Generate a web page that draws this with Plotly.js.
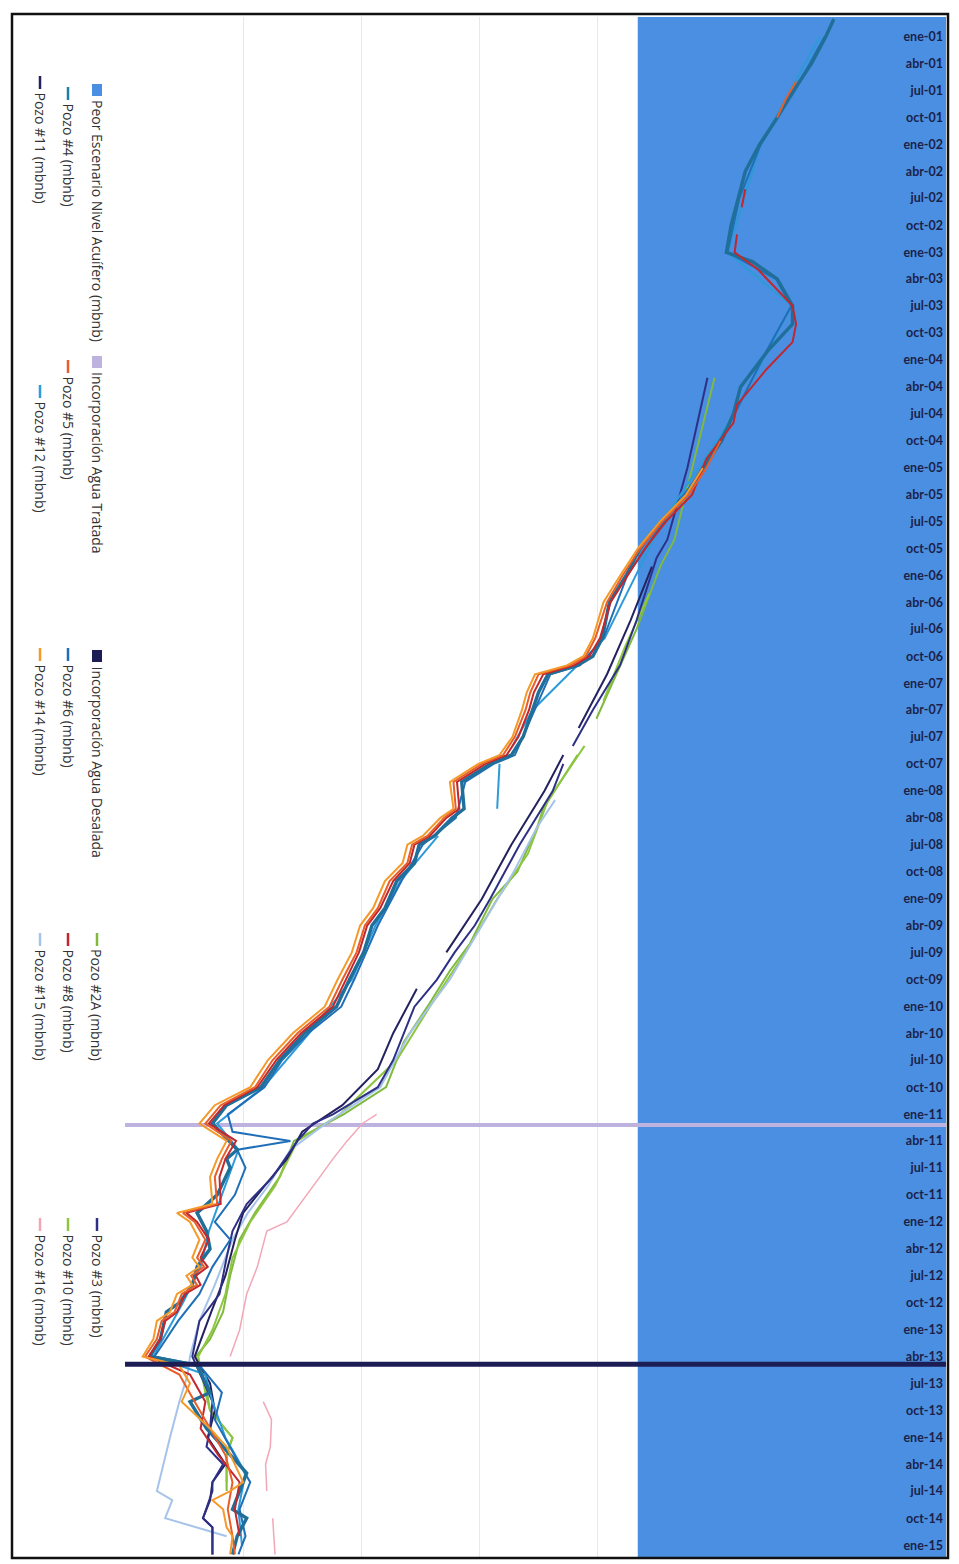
<!DOCTYPE html>
<html>
<head>
<meta charset="utf-8">
<script src="https://cdn.plot.ly/plotly-3.0.1.min.js"></script>
<style>
  html, body { margin: 0; padding: 0; background: #ffffff; }
  #chart { width: 959px; height: 1564px; }
</style>
</head>
<body>
<div id="chart"></div>
<script>
// ---------------- DATA ----------------
const etiquetasFecha = ['ene-01','abr-01','jul-01','oct-01','ene-02','abr-02','jul-02','oct-02','ene-03','abr-03','jul-03','oct-03','ene-04','abr-04','jul-04','oct-04','ene-05','abr-05','jul-05','oct-05','ene-06','abr-06','jul-06','oct-06','ene-07','abr-07','jul-07','oct-07','ene-08','abr-08','jul-08','oct-08','ene-09','abr-09','jul-09','oct-09','ene-10','abr-10','jul-10','oct-10','ene-11','abr-11','jul-11','oct-11','ene-12','abr-12','jul-12','oct-12','ene-13','abr-13','jul-13','oct-13','ene-14','abr-14','jul-14','oct-14','ene-15'];

// Peor escenario nivel acuifero (mbnb)
const peorEscenarioFechas = ['2000-10-01', '2015-03-01'];
const peorEscenarioNivel = [26.6, 26.6];

// Hitos
const fechaAguaTratada = '2011-02-06';
const fechaAguaDesalada = '2013-04-27';

const pozo4Fechas = ['2000-11','2001-01','2001-04','2001-07','2001-10','2002-01','2002-04','2002-07','2002-10','2003-01','2003-02','2003-04','2003-07','2003-09','2003-12','2004-04','2004-07','2004-10','2005-01','2005-04','2005-07','2005-10','2006-01','2006-04','2006-08','2006-10','2006-11','2006-12','2007-02','2007-04','2007-07','2007-09','2007-10','2007-12','2008-03','2008-04','2008-06','2008-07','2008-09','2008-11','2009-02','2009-04','2009-07','2009-10','2010-01','2010-04','2010-07','2010-10','2010-12','2011-02','2011-05','2011-06','2011-07','2011-10','2011-12','2012-02','2012-04','2012-06','2012-08','2012-10','2012-11','2013-02','2013-04','2013-05','2013-08','2013-09','2013-12','2014-05','2014-09','2014-10','2014-12','2015-02'];
const pozo4Valores = [10.0,10.7,11.9,13.4,14.8,16.3,17.5,18.1,18.7,19.1,16.9,14.8,13.5,13.5,15.6,17.9,18.5,19.5,21.1,22.4,24.6,26.4,27.6,29.0,29.6,30.4,31.7,34.2,35.0,35.5,36.3,37.3,39.1,41.5,41.3,42.3,43.8,45.1,45.5,47.0,48.0,49.1,49.8,51.0,52.1,54.8,56.9,58.5,61.4,62.6,60.5,61.4,61.1,62.2,63.9,63.1,62.8,63.9,64.3,65.4,66.5,67.0,67.9,63.9,62.8,64.5,63.1,59.7,60.9,59.7,60.5,60.9];

const pozo6Fechas = ['2001-01','2001-07','2002-01','2002-07','2003-01','2003-04','2003-07','2003-12','2004-07','2005-01','2005-07','2006-01','2006-08','2006-11','2006-12','2007-04','2007-09','2007-10','2007-12','2008-04','2008-07','2008-11','2009-04','2009-10','2010-01','2010-04','2010-07','2010-10','2011-01','2011-03','2011-04','2011-05','2011-07','2011-10','2012-01','2012-03','2012-06','2012-09','2012-12','2013-04','2013-05','2013-08','2013-11','2014-04','2014-06','2014-09','2014-12','2015-02'];
const pozo6Valores = [10.8,13.3,16.2,18.0,19.0,14.9,13.6,15.7,18.4,21.0,24.4,27.5,29.5,31.5,34.0,35.3,37.0,38.8,41.2,42.0,44.8,46.6,48.6,50.6,51.7,54.5,56.7,58.2,61.3,60.9,56.0,60.5,59.8,60.7,62.4,61.1,62.6,63.7,65.5,67.5,63.7,61.8,62.4,60.3,59.4,60.3,59.8,60.4];

const pozo12Fechas = ['2001-01','2002-01','2003-01','2003-07','2004-07','2005-07','2006-08','2007-04','2007-08','2007-09','2007-10','2008-01','2008-03','2008-04','2008-06','2008-11','2009-04','2009-10','2010-04','2010-10','2011-02','2011-05','2011-10','2012-02','2012-06','2012-10','2013-04','2013-06','2013-09','2014-01','2014-05','2014-09','2015-01'];
const pozo12Valores = [11.2,16.2,19.0,13.6,18.4,24.5,29.4,35.5,37.2,null,38.3,38.4,38.5,null,43.5,46.7,48.8,50.8,54.4,58.3,62.2,60.4,61.8,62.9,63.6,65.1,67.6,63.2,62.6,61.5,59.8,60.4,60.1];

const pozo14Fechas = ['2005-01','2005-04','2005-07','2005-10','2006-01','2006-04','2006-08','2006-10','2006-11','2006-12','2007-02','2007-04','2007-07','2007-09','2007-10','2007-12','2008-03','2008-04','2008-06','2008-07','2008-09','2008-11','2009-02','2009-04','2009-07','2009-10','2010-01','2010-04','2010-07','2010-10','2010-12','2011-02','2011-04','2011-06','2011-08','2011-11','2011-12','2012-01','2012-03','2012-05','2012-06','2012-07','2012-08','2012-09','2012-11','2012-12','2013-02','2013-04','2013-05','2013-07','2013-09','2013-12','2014-02','2014-06','2014-07','2014-08','2014-09','2014-11','2014-12','2015-02'];
const pozo14Valores = [21.1,22.5,24.7,26.6,28.1,29.5,30.4,31.2,32.6,35.3,36.0,36.4,37.2,38.3,40.1,42.5,42.2,43.3,44.8,46.1,46.5,48.0,49.0,50.1,50.8,52.0,53.1,55.8,57.9,59.4,62.4,63.7,61.4,62.2,62.8,62.6,65.6,64.5,63.7,64.3,63.7,64.8,64.3,65.6,66.2,67.3,67.6,68.5,65.4,64.5,65.2,62.8,61.4,60.0,61.1,62.6,61.7,61.4,60.9,61.1];

const pozo5Fechas = ['2001-06','2001-08','2001-10','2001-11','2004-10','2005-01','2005-04','2005-07','2005-10','2006-01','2006-04','2006-08','2006-10','2006-11','2006-12','2007-02','2007-04','2007-07','2007-09','2007-10','2007-12','2008-03','2008-04','2008-06','2008-07','2008-09','2008-11','2009-02','2009-04','2009-07','2009-10','2010-01','2010-04','2010-07','2010-10','2010-12','2011-02','2011-04','2011-06','2011-08','2011-11','2011-12','2012-01','2012-03','2012-05','2012-06','2012-07','2012-08','2012-09','2012-11','2012-12','2013-02','2013-04','2013-06','2013-09','2013-12','2014-03','2014-06','2014-09','2014-12','2015-02'];
const pozo5Valores = [13.2,14.1,14.8,null,19.6,20.8,22.3,24.5,26.4,27.9,29.2,30.2,31.0,32.3,35.0,35.7,36.1,37.0,38.0,39.8,42.2,42.0,43.0,44.4,45.7,46.1,47.6,48.6,49.7,50.4,51.6,52.7,55.4,57.5,59.0,61.9,63.2,61.0,61.8,62.4,62.2,65.1,64.1,63.2,63.9,63.3,64.4,63.9,65.2,65.8,66.9,67.3,68.3,65.4,64.1,62.8,61.5,60.9,61.3,60.9,60.7];

const pozo8Fechas = ['2002-06','2002-08','2002-09','2002-11','2003-01','2003-03','2003-07','2003-09','2003-11','2004-02','2004-06','2004-08','2004-12','2005-04','2005-07','2005-10','2006-01','2006-04','2006-08','2006-10','2006-11','2006-12','2007-02','2007-04','2007-07','2007-09','2007-10','2007-12','2008-03','2008-04','2008-06','2008-07','2008-09','2008-11','2009-02','2009-04','2009-07','2009-10','2010-01','2010-04','2010-07','2010-10','2010-12','2011-02','2011-04','2011-06','2011-08','2011-11','2011-12','2012-01','2012-03','2012-05','2012-06','2012-07','2012-08','2012-09','2012-11','2012-12','2013-02','2013-04','2013-06','2013-09','2013-12','2014-03','2014-06','2014-09','2014-12'];
const pozo8Valores = [17.5,17.8,null,18.2,18.4,16.4,13.5,13.2,13.5,15.7,18.2,18.5,20.8,22.0,24.2,26.0,27.5,28.9,29.8,30.7,32.0,34.6,35.4,35.8,36.7,37.7,39.5,41.9,41.7,42.8,44.2,45.5,45.9,47.3,48.4,49.5,50.2,51.3,52.4,55.1,57.2,58.8,61.6,62.9,60.6,61.5,62.0,61.9,64.8,63.9,62.9,63.6,63.0,64.0,63.6,64.9,65.6,66.6,67.0,68.0,64.5,63.2,63.6,62.1,60.3,60.7,60.3];

const pozo3Fechas = ['2004-03','2005-01','2005-09','2005-11','2006-06','2006-11','2007-04','2007-08','2007-09','2007-10','2008-01','2008-07','2009-01','2009-04','2009-07','2009-10','2010-01','2010-07','2010-10','2011-01','2011-02','2011-04','2011-08','2011-11','2012-02','2012-05','2012-09','2012-12','2013-04','2013-09','2013-12','2014-02','2014-04','2014-06','2014-07','2014-10','2014-11','2015-02'];
const pozo3Valores = [20.7,22.4,24.1,25.0,26.7,28.1,30.4,32.1,null,32.9,33.8,36.6,39.1,40.4,42.1,43.6,45.5,47.3,48.6,52.4,54.1,55.4,57.5,59.7,60.9,61.4,62.0,63.7,64.3,62.6,62.8,63.1,61.7,62.6,62.6,63.4,62.6,62.6];

const pozo11Fechas = ['2005-12','2006-06','2006-12','2007-06','2007-07','2007-09','2008-01','2008-07','2009-01','2009-07','2009-09','2009-11','2010-04','2010-08','2010-12','2011-03','2011-06','2011-09','2011-12','2012-03','2012-07','2012-11','2013-04','2013-07','2013-10','2014-01','2014-04','2014-06','2014-08','2014-10','2014-11','2015-02'];
const pozo11Valores = [25.4,27.2,29.2,31.6,null,32.9,34.5,37.3,39.8,42.8,null,45.3,47.3,48.6,51.6,55.0,56.3,58.2,60.0,60.7,61.5,62.7,64.1,62.8,62.4,63.0,61.5,62.6,62.8,63.4,62.6,62.6];

const pozo2AFechas = ['2004-03','2004-11','2005-09','2005-12','2006-07','2007-05','2007-07','2007-09','2008-03','2008-05','2008-10','2009-01','2009-06','2009-09','2010-01','2010-05','2010-10','2011-01','2011-04','2011-08','2011-12','2012-03','2012-07','2012-11','2013-02','2013-04','2013-07','2013-10','2014-01','2014-03','2014-07'];
const pozo2AValores = [20.1,21.6,23.5,24.7,26.7,30.1,null,31.7,34.6,35.1,36.8,38.9,40.8,42.5,44.4,46.4,47.9,51.5,55.7,56.9,59.0,60.3,61.1,61.7,62.8,64.0,63.2,62.8,60.9,61.4,61.4];

const pozo10Fechas = ['2006-03','2006-09','2007-03','2007-06','2007-08','2008-02','2008-08','2009-01','2009-07','2010-01','2010-07','2011-01','2011-04','2011-09','2012-01','2012-05','2012-09','2013-01','2013-04','2013-08','2013-10','2014-01','2014-03','2014-06'];
const pozo10Valores = [25.6,27.7,29.5,null,31.1,34.2,35.9,38.5,41.2,44.2,47.0,51.8,55.4,57.3,59.4,60.9,61.5,62.6,63.8,63.2,62.8,60.9,61.4,61.4];

const pozo15Fechas = ['2008-02','2008-05','2008-10','2009-04','2009-10','2010-04','2010-10','2011-02','2011-05','2011-09','2011-12','2012-03','2012-08','2012-12','2013-04','2013-06','2013-09','2014-01','2014-07','2014-08','2014-10','2014-12'];
const pozo15Valores = [33.6,35.1,37.1,39.8,42.5,45.9,48.4,53.0,56.0,57.9,59.6,60.9,62.4,63.7,64.5,64.7,65.4,66.2,67.3,66.0,66.6,61.4];

const pozo16Fechas = ['2011-01','2011-02','2011-04','2011-06','2011-08','2011-11','2012-01','2012-02','2012-06','2012-09','2013-01','2013-04','2013-06','2013-09','2013-11','2014-02','2014-04','2014-07','2014-08','2014-10','2015-02'];
const pozo16Valores = [48.7,49.9,51.2,52.4,53.5,55.2,56.3,58.0,58.8,59.7,60.3,61.1,null,58.3,57.6,57.7,58.1,58.0,null,57.5,57.3];

// ---------------- STYLE / BUILD ----------------
const series = [
  { name: 'Pozo #2A (mbnb)', x: pozo2AValores, y: pozo2AFechas, color: '#7fba3f', width: 2 },
  { name: 'Pozo #10 (mbnb)', x: pozo10Valores, y: pozo10Fechas, color: '#8dc63f', width: 2 },
  { name: 'Pozo #15 (mbnb)', x: pozo15Valores, y: pozo15Fechas, color: '#a6c3ea', width: 2 },
  { name: 'Pozo #11 (mbnb)', x: pozo11Valores, y: pozo11Fechas, color: '#24225e', width: 2 },
  { name: 'Pozo #3 (mbnb)', x: pozo3Valores, y: pozo3Fechas, color: '#2e3086', width: 2 },
  { name: 'Pozo #16 (mbnb)', x: pozo16Valores, y: pozo16Fechas, color: '#f2a7b8', width: 1.5 },
  { name: 'Pozo #12 (mbnb)', x: pozo12Valores, y: pozo12Fechas, color: '#2c9bd8', width: 2 },
  { name: 'Pozo #6 (mbnb)', x: pozo6Valores, y: pozo6Fechas, color: '#1f6fb8', width: 2 },
  { name: 'Pozo #4 (mbnb)', x: pozo4Valores, y: pozo4Fechas, color: '#1f6f99', width: 3.4 },
  { name: 'Pozo #8 (mbnb)', x: pozo8Valores, y: pozo8Fechas, color: '#c1272d', width: 2 },
  { name: 'Pozo #5 (mbnb)', x: pozo5Valores, y: pozo5Fechas, color: '#e85d2a', width: 2 },
  { name: 'Pozo #14 (mbnb)', x: pozo14Valores, y: pozo14Fechas, color: '#f39a2b', width: 2 }
];

const colorPeor = '#4a8fe1';
const colorTratada = '#bdb3de';
const colorDesalada = '#1c1d55';

const traces = [];
traces.push({
  type: 'scatter', mode: 'lines', name: 'Peor Escenario Nivel Acuífero (mbnb)',
  x: peorEscenarioNivel, y: peorEscenarioFechas,
  fill: 'tozerox', fillcolor: colorPeor, line: { width: 0, color: colorPeor },
  hoverinfo: 'skip', showlegend: false
});
traces.push({
  type: 'scatter', mode: 'lines', name: 'Incorporación Agua Tratada',
  x: [0, 70], y: [fechaAguaTratada, fechaAguaTratada],
  line: { color: colorTratada, width: 4 }, hoverinfo: 'skip', showlegend: false
});
series.forEach(s => traces.push({
  type: 'scatter', mode: 'lines', name: s.name, x: s.x, y: s.y,
  connectgaps: false, line: { color: s.color, width: s.width },
  hoverinfo: 'skip', showlegend: false
}));
traces.push({
  type: 'scatter', mode: 'lines', name: 'Incorporación Agua Desalada',
  x: [0, 70], y: [fechaAguaDesalada, fechaAguaDesalada],
  line: { color: colorDesalada, width: 5 }, hoverinfo: 'skip', showlegend: false
});

const mesNum = { ene: '01', abr: '04', jul: '07', oct: '10' };
const tickVals = etiquetasFecha.map(t => '20' + t.slice(4) + '-' + mesNum[t.slice(0, 3)] + '-01');

// pixel -> paper helpers for decorations (legend, frame)
const PL = 125, PR = 946, PT = 17, PB = 1558;
const xp = px => (px - PL) / (PR - PL);
const yp = py => (PB - py) / (PB - PT);

const legendEntries = [
  { name: 'Peor Escenario Nivel Acuífero (mbnb)', color: colorPeor, kind: 'box', x: 97, y: 84 },
  { name: 'Incorporación Agua Tratada', color: colorTratada, kind: 'box', x: 97, y: 356 },
  { name: 'Incorporación Agua Desalada', color: colorDesalada, kind: 'box', x: 97, y: 650 },
  { name: 'Pozo #2A (mbnb)', color: '#7fba3f', kind: 'line', x: 97, y: 933 },
  { name: 'Pozo #3 (mbnb)', color: '#2e3086', kind: 'line', x: 97, y: 1218 },
  { name: 'Pozo #4 (mbnb)', color: '#1d7eaa', kind: 'line', x: 68, y: 87 },
  { name: 'Pozo #5 (mbnb)', color: '#e85d2a', kind: 'line', x: 68, y: 360 },
  { name: 'Pozo #6 (mbnb)', color: '#1f6fb8', kind: 'line', x: 68, y: 648 },
  { name: 'Pozo #8 (mbnb)', color: '#c1272d', kind: 'line', x: 68, y: 933 },
  { name: 'Pozo #10 (mbnb)', color: '#8dc63f', kind: 'line', x: 68, y: 1218 },
  { name: 'Pozo #11 (mbnb)', color: '#24225e', kind: 'line', x: 40, y: 76 },
  { name: 'Pozo #12 (mbnb)', color: '#2c9bd8', kind: 'line', x: 40, y: 385 },
  { name: 'Pozo #14 (mbnb)', color: '#f39a2b', kind: 'line', x: 40, y: 648 },
  { name: 'Pozo #15 (mbnb)', color: '#a6c3ea', kind: 'line', x: 40, y: 933 },
  { name: 'Pozo #16 (mbnb)', color: '#f2a7b8', kind: 'line', x: 40, y: 1218 }
];

const shapes = [];
const annotations = [];
legendEntries.forEach(e => {
  if (e.kind === 'box') {
    shapes.push({ type: 'rect', xref: 'paper', yref: 'paper',
      x0: xp(e.x - 5), x1: xp(e.x + 5), y0: yp(e.y), y1: yp(e.y + 12),
      fillcolor: e.color, line: { width: 0 } });
  } else {
    shapes.push({ type: 'line', xref: 'paper', yref: 'paper',
      x0: xp(e.x), x1: xp(e.x), y0: yp(e.y), y1: yp(e.y + 13),
      line: { color: e.color, width: 2.5 } });
  }
  annotations.push({ xref: 'paper', yref: 'paper', x: xp(e.x), y: yp(e.y + 14),
    xanchor: 'center', yanchor: 'top', text: e.name, textangle: 90, showarrow: false,
    font: { family: 'Open Sans, sans-serif', size: 14, color: '#333333' } });
});

// page frame
shapes.push({ type: 'rect', xref: 'paper', yref: 'paper', layer: 'above',
  x0: xp(12), x1: xp(948), y0: yp(1558), y1: yp(14),
  line: { color: '#111111', width: 2.5 }, fillcolor: 'rgba(0,0,0,0)' });

const layout = {
  width: 959, height: 1564,
  margin: { l: PL, r: 959 - PR, t: PT, b: 1564 - PB, pad: 0 },
  paper_bgcolor: '#ffffff', plot_bgcolor: '#ffffff',
  showlegend: false,
  xaxis: {
    range: [70, 0.51], showticklabels: false, showgrid: true, gridcolor: '#e8e8e8',
    gridwidth: 1, tick0: 0, dtick: 10, zeroline: false, showline: false, ticks: ''
  },
  yaxis: {
    type: 'date', range: ['2015-02-13', '2000-10-25'], side: 'right',
    ticklabelposition: 'inside', tickmode: 'array', tickvals: tickVals, ticktext: etiquetasFecha,
    showgrid: false, zeroline: false, showline: false, ticks: '',
    tickfont: { family: 'Lato, sans-serif', size: 12.5, color: '#1c1f4a', weight: 700 }
  },
  shapes: shapes,
  annotations: annotations
};

Plotly.newPlot('chart', traces, layout, { displayModeBar: false, staticPlot: true });
</script>
</body>
</html>
